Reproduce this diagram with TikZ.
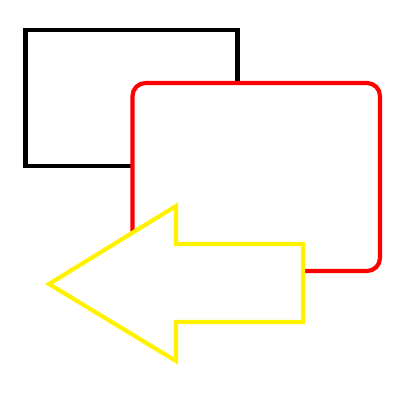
\documentclass[tikz,border=0pt]{standalone}
\begin{document}
\begin{tikzpicture}[x=1pt,y=-1pt,
  shape line/.style={line width=4.2pt}]
\useasboundingbox (0,0) rectangle (400,400);
\fill[white] (0,0) rectangle (400,400);
\draw[shape line,black] (25.5,30) rectangle (237.5,166);
\draw[shape line,red,fill=white,rounded corners=13pt] (132.5,83) rectangle (380,271);
\draw[shape line,yellow,fill=white] (49,284) -- (176,206) -- (176,244) -- (303,244) -- (303,322) -- (176,322) -- (176,361) -- cycle;
\end{tikzpicture}
\end{document}
